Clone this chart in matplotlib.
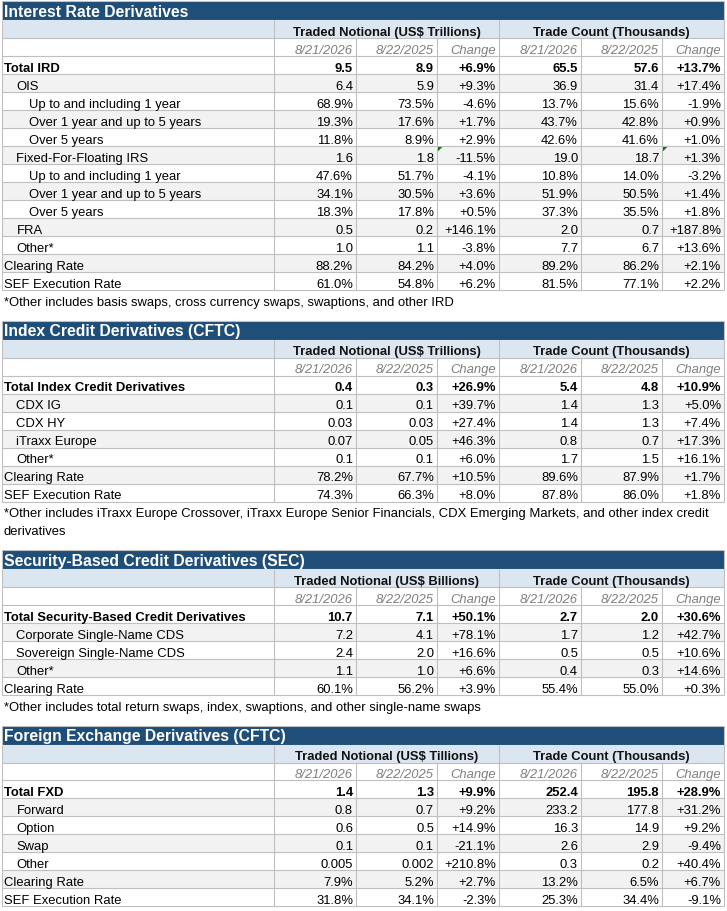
import matplotlib.pyplot as plt
from matplotlib.patches import Rectangle, Polygon

plt.rcParams['font.family'] = ['Liberation Sans', 'DejaVu Sans']

dates = ['8/21/2026', '8/22/2025', 'Change']
count_unit = 'Trade Count (Thousands)'

# --- Interest Rate Derivatives ---
ird_title = 'Interest Rate Derivatives'
ird_unit = 'Traded Notional (US$ Trillions)'
ird_labels = ['Total IRD', 'OIS', 'Up to and including 1 year', 'Over 1 year and up to 5 years',
              'Over 5 years', 'Fixed-For-Floating IRS', 'Up to and including 1 year',
              'Over 1 year and up to 5 years', 'Over 5 years', 'FRA', 'Other*',
              'Clearing Rate', 'SEF Execution Rate']
ird_level = [0, 1, 2, 2, 2, 1, 2, 2, 2, 1, 1, 0, 0]
ird_notional_new = ['9.5', '6.4', '68.9%', '19.3%', '11.8%', '1.6', '47.6%', '34.1%', '18.3%', '0.5', '1.0', '88.2%', '61.0%']
ird_notional_old = ['8.9', '5.9', '73.5%', '17.6%', '8.9%', '1.8', '51.7%', '30.5%', '17.8%', '0.2', '1.1', '84.2%', '54.8%']
ird_notional_chg = ['+6.9%', '+9.3%', '-4.6%', '+1.7%', '+2.9%', '-11.5%', '-4.1%', '+3.6%', '+0.5%', '+146.1%', '-3.8%', '+4.0%', '+6.2%']
ird_count_new = ['65.5', '36.9', '13.7%', '43.7%', '42.6%', '19.0', '10.8%', '51.9%', '37.3%', '2.0', '7.7', '89.2%', '81.5%']
ird_count_old = ['57.6', '31.4', '15.6%', '42.8%', '41.6%', '18.7', '14.0%', '50.5%', '35.5%', '0.7', '6.7', '86.2%', '77.1%']
ird_count_chg = ['+13.7%', '+17.4%', '-1.9%', '+0.9%', '+1.0%', '+1.3%', '-3.2%', '+1.4%', '+1.8%', '+187.8%', '+13.6%', '+2.1%', '+2.2%']
ird_notes = ['*Other includes basis swaps, cross currency swaps, swaptions, and other IRD']
ird_marks = [(5, 3), (5, 6)]

# --- Index Credit Derivatives ---
icd_title = 'Index Credit Derivatives (CFTC)'
icd_unit = 'Traded Notional (US$ Trillions)'
icd_labels = ['Total Index Credit Derivatives', 'CDX IG', 'CDX HY', 'iTraxx Europe', 'Other*',
              'Clearing Rate', 'SEF Execution Rate']
icd_level = [0, 1, 1, 1, 1, 0, 0]
icd_notional_new = ['0.4', '0.1', '0.03', '0.07', '0.1', '78.2%', '74.3%']
icd_notional_old = ['0.3', '0.1', '0.03', '0.05', '0.1', '67.7%', '66.3%']
icd_notional_chg = ['+26.9%', '+39.7%', '+27.4%', '+46.3%', '+6.0%', '+10.5%', '+8.0%']
icd_count_new = ['5.4', '1.4', '1.4', '0.8', '1.7', '89.6%', '87.8%']
icd_count_old = ['4.8', '1.3', '1.3', '0.7', '1.5', '87.9%', '86.0%']
icd_count_chg = ['+10.9%', '+5.0%', '+7.4%', '+17.3%', '+16.1%', '+1.7%', '+1.8%']
icd_notes = ['*Other includes iTraxx Europe Crossover, iTraxx Europe Senior Financials, CDX Emerging Markets, and other index credit',
             'derivatives']

# --- Security-Based Credit Derivatives ---
sbc_title = 'Security-Based Credit Derivatives (SEC)'
sbc_unit = 'Traded Notional (US$ Billions)'
sbc_labels = ['Total Security-Based Credit Derivatives', 'Corporate Single-Name CDS',
              'Sovereign Single-Name CDS', 'Other*', 'Clearing Rate']
sbc_level = [0, 1, 1, 1, 0]
sbc_notional_new = ['10.7', '7.2', '2.4', '1.1', '60.1%']
sbc_notional_old = ['7.1', '4.1', '2.0', '1.0', '56.2%']
sbc_notional_chg = ['+50.1%', '+78.1%', '+16.6%', '+6.6%', '+3.9%']
sbc_count_new = ['2.7', '1.7', '0.5', '0.4', '55.4%']
sbc_count_old = ['2.0', '1.2', '0.5', '0.3', '55.0%']
sbc_count_chg = ['+30.6%', '+42.7%', '+10.6%', '+14.6%', '+0.3%']
sbc_notes = ['*Other includes total return swaps, index, swaptions, and other single-name swaps']

# --- Foreign Exchange Derivatives ---
fxd_title = 'Foreign Exchange Derivatives (CFTC)'
fxd_unit = 'Traded Notional (US$ Tillions)'
fxd_labels = ['Total FXD', 'Forward', 'Option', 'Swap', 'Other', 'Clearing Rate', 'SEF Execution Rate']
fxd_level = [0, 1, 1, 1, 1, 0, 0]
fxd_notional_new = ['1.4', '0.8', '0.6', '0.1', '0.005', '7.9%', '31.8%']
fxd_notional_old = ['1.3', '0.7', '0.5', '0.1', '0.002', '5.2%', '34.1%']
fxd_notional_chg = ['+9.9%', '+9.2%', '+14.9%', '-21.1%', '+210.8%', '+2.7%', '-2.3%']
fxd_count_new = ['252.4', '233.2', '16.3', '2.6', '0.3', '13.2%', '25.3%']
fxd_count_old = ['195.8', '177.8', '14.9', '2.9', '0.2', '6.5%', '34.4%']
fxd_count_chg = ['+28.9%', '+31.2%', '+9.2%', '-9.4%', '+40.4%', '+6.7%', '-9.1%']
fxd_notes = []

# layout (pixels)
W, H = 727, 912
col_edges = [2, 274, 356, 437, 499, 581, 662, 724]
TITLE_H = 19
ROW_H = 18
GAP = 12.5
BASE = 14.7
PAD = 3
indent_x = [4, 16.5, 29]
FS = 9.4
TITLE_FS = 11.3

TITLE_BG = '#1F4E79'
HEAD_BG = '#DCE6F1'
ALT_BG = '#F2F2F2'
GRID = '#BFBFBF'
DATE_C = '#7F7F7F'
LW = 0.8

fig = plt.figure(figsize=(W / 100, H / 100), dpi=100)
ax = fig.add_axes([0, 0, 1, 1])
ax.set_xlim(0, W)
ax.set_ylim(H, 0)
ax.axis('off')


def draw_section(top, title, unit, labels, levels, cols, notes, marks=()):
    x0, x1 = col_edges[0], col_edges[-1]
    ax.add_patch(Rectangle((x0, top), x1 - x0, TITLE_H, fc=TITLE_BG, ec=GRID, lw=LW))
    ax.text(x0 + 2.5, top + BASE, title, color='white', fontsize=TITLE_FS, fontweight='bold')
    y = top + TITLE_H

    # header row
    ax.add_patch(Rectangle((x0, y), x1 - x0, ROW_H, fc=HEAD_BG, ec='none'))
    ax.text((col_edges[1] + col_edges[4]) / 2, y + BASE, unit, ha='center',
            fontsize=FS, fontweight='bold', color='#111111')
    ax.text((col_edges[4] + col_edges[7]) / 2, y + BASE, count_unit, ha='center',
            fontsize=FS, fontweight='bold', color='#111111')
    ax.vlines([col_edges[0], col_edges[1], col_edges[4], col_edges[7]], y, y + ROW_H,
              color=GRID, lw=LW)
    y += ROW_H

    n = len(labels)
    body_top = y
    bottom = y + ROW_H * (n + 1)
    for i in range(n):
        if i % 2 == 1:
            ry = body_top + ROW_H * (i + 1)
            ax.add_patch(Rectangle((x0, ry), x1 - x0, ROW_H, fc=ALT_BG, ec='none'))
    ax.hlines([body_top + ROW_H * k for k in range(n + 2)], x0, x1, color=GRID, lw=LW)
    ax.vlines(col_edges, body_top, bottom, color=GRID, lw=LW)

    # dates row
    for j, d in enumerate(dates * 2):
        ax.text(col_edges[j + 2] - PAD, body_top + BASE, d, ha='right', fontsize=FS,
                style='italic', color=DATE_C)

    for i, lab in enumerate(labels):
        ry = body_top + ROW_H * (i + 1)
        wt = 'bold' if i == 0 else 'normal'
        ax.text(indent_x[levels[i]], ry + BASE, lab, fontsize=FS, fontweight=wt, color='black')
        for j, col in enumerate(cols):
            ax.text(col_edges[j + 2] - PAD, ry + BASE, col[i], ha='right', fontsize=FS,
                    fontweight=wt, color='black')

    # small comment markers in cell corners
    for (ri, cj) in marks:
        cx = col_edges[cj]
        cy = body_top + ROW_H * (ri + 1)
        ax.add_patch(Polygon([(cx + 0.5, cy + 0.5), (cx + 5.5, cy + 0.5), (cx + 0.5, cy + 5.5)],
                             closed=True, fc='#007A00', ec='#007A00', lw=0.3))

    for k, note in enumerate(notes):
        ax.text(x0 + 2, bottom + ROW_H * k + BASE, note, fontsize=FS, color='black')

    return bottom + ROW_H * len(notes) + GAP


top = 2
top = draw_section(top, ird_title, ird_unit, ird_labels, ird_level,
                   [ird_notional_new, ird_notional_old, ird_notional_chg,
                    ird_count_new, ird_count_old, ird_count_chg], ird_notes, ird_marks)
top = draw_section(top, icd_title, icd_unit, icd_labels, icd_level,
                   [icd_notional_new, icd_notional_old, icd_notional_chg,
                    icd_count_new, icd_count_old, icd_count_chg], icd_notes)
top = draw_section(top, sbc_title, sbc_unit, sbc_labels, sbc_level,
                   [sbc_notional_new, sbc_notional_old, sbc_notional_chg,
                    sbc_count_new, sbc_count_old, sbc_count_chg], sbc_notes)
top = draw_section(top, fxd_title, fxd_unit, fxd_labels, fxd_level,
                   [fxd_notional_new, fxd_notional_old, fxd_notional_chg,
                    fxd_count_new, fxd_count_old, fxd_count_chg], fxd_notes)

fig.savefig('out.png', dpi=100, facecolor='white')
